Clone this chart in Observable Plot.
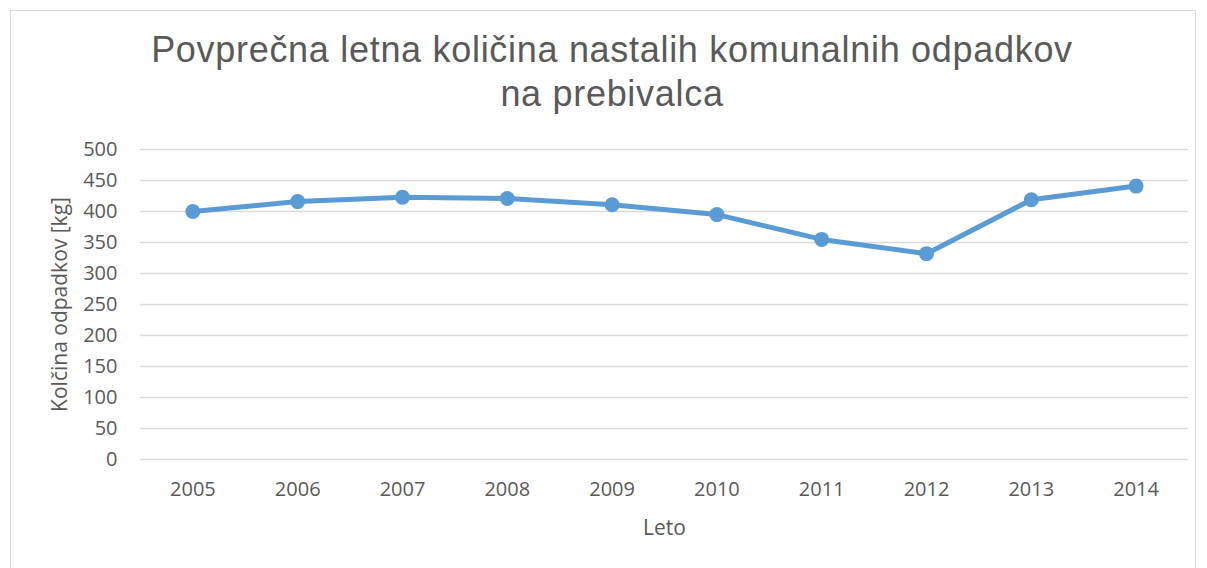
<!DOCTYPE html>
<html>
<head>
<meta charset="utf-8">
<script src="https://cdn.jsdelivr.net/npm/d3@7"></script>
<script src="https://cdn.jsdelivr.net/npm/@observablehq/plot@0.6"></script>
<style>
  body { margin: 0; background: #fff; }
  #wrap { position: relative; width: 1207px; height: 568px; overflow: hidden; }
  #frame { position: absolute; left: 10px; top: 10px; width: 1186px; height: 580px; border: 1px solid #d9d9d9; box-sizing: border-box; }
  #title { position: absolute; left: 0; width: 1224px; top: 28px; text-align: center; font-family: "Liberation Sans", Arial, sans-serif; font-size: 36px; letter-spacing: 0.7px; line-height: 44px; color: #595959; }
  #chart { position: absolute; left: 0; top: 0; }
</style>
</head>
<body>
<div id="wrap">
  <div id="frame"></div>
  <div id="title">Povprečna letna količina nastalih komunalnih odpadkov<br>na prebivalca</div>
  <div id="chart"></div>
</div>
<script>
const years = ["2005","2006","2007","2008","2009","2010","2011","2012","2013","2014"];
const values = [400, 416, 423, 421, 411, 395, 355, 332, 419, 441];
const yTicks = [0,50,100,150,200,250,300,350,400,450,500];

const data = years.map((y, i) => ({year: y, value: values[i]}));

const plot = Plot.plot({
  width: 1207,
  height: 568,
  marginTop: 149,
  marginBottom: 109,
  marginLeft: 140,
  marginRight: 19,
  style: {fontFamily: "'Open Sans', sans-serif", fontSize: "20px", color: "#595959", background: "transparent"},
  x: {type: "point", domain: years, padding: 0.5, round: false},
  y: {domain: [0, 500]},
  marks: [
    Plot.ruleY(yTicks, {stroke: "#d9d9d9", strokeWidth: 1.3}),
    Plot.axisY({ticks: yTicks, tickSize: 0, tickPadding: 23, fontSize: 20, label: null, fill: "#595959"}),
    Plot.axisY({ticks: [], tickSize: 0, fontSize: 21, label: "Kolčina odpadkov [kg]", labelAnchor: "center", labelArrow: "none", labelOffset: 88, fill: "#595959"}),
    Plot.axisX({tickSize: 0, tickPadding: 22, fontSize: 20, label: null, fill: "#595959"}),
    Plot.axisX({ticks: [], tickSize: 0, fontSize: 21, label: "Leto", labelAnchor: "center", labelArrow: "none", labelOffset: 75, fill: "#595959"}),
    Plot.line(data, {x: "year", y: "value", stroke: "#5b9bd5", strokeWidth: 5, strokeLinejoin: "round"}),
    Plot.dot(data, {x: "year", y: "value", fill: "#5b9bd5", r: 7.5})
  ]
});
document.getElementById("chart").appendChild(plot);
</script>
</body>
</html>
